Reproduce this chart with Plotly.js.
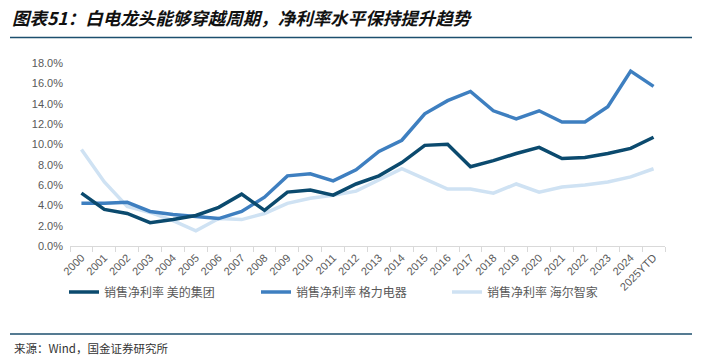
<!DOCTYPE html>
<html>
<head>
<meta charset="utf-8">
<script src="https://cdn.plot.ly/plotly-3.0.1.min.js"></script>
<style>
html,body{margin:0;padding:0;background:#fff;}
#chart{width:702px;height:357px;}
</style>
</head>
<body>
<div id="chart"></div>
<script>
// ---- data ----
var years = ['2000','2001','2002','2003','2004','2005','2006','2007','2008','2009','2010','2011','2012','2013','2014','2015','2016','2017','2018','2019','2020','2021','2022','2023','2024','2025YTD'];
var midea = [5.2,3.6,3.2,2.3,2.6,3.0,3.8,5.1,3.5,5.3,5.5,5.0,6.1,6.9,8.2,9.9,10.0,7.8,8.4,9.1,9.7,8.6,8.7,9.1,9.6,10.7];
var gree  = [4.2,4.2,4.3,3.4,3.1,2.9,2.7,3.4,4.8,6.9,7.1,6.4,7.5,9.3,10.4,13.0,14.3,15.2,13.3,12.5,13.3,12.2,12.2,13.7,17.2,15.7];
var haier = [9.5,6.3,3.9,3.3,2.5,1.5,2.7,2.6,3.2,4.2,4.7,5.0,5.4,6.5,7.6,6.6,5.6,5.6,5.2,6.1,5.3,5.8,6.0,6.3,6.8,7.6];
var seriesNames = ['销售净利率 美的集团','销售净利率 格力电器','销售净利率 海尔智家'];
var yTicks = [0,2,4,6,8,10,12,14,16,18];
var yTickText = ['0.0%','2.0%','4.0%','6.0%','8.0%','10.0%','12.0%','14.0%','16.0%','18.0%'];
var titleText = '图表51：白电龙头能够穿越周期，净利率水平保持提升趋势';
var sourceText = '来源：Wind，国金证券研究所';

// ---- layout geometry (pixels) ----
var W = 702, H = 357;
var L = 70, R = 665, T = 63, B = 246;
function px2x(p){ return (p - L) / (R - L); }
function px2y(p){ return (B - p) / (B - T); }

var cjk = '"Noto Sans CJK SC", "Noto Sans", sans-serif';
var axisFont = {family: '"Liberation Sans", Arial, sans-serif', size: 11, color: '#595959'};
var legFont = {family: cjk, size: 12, color: '#595959'};

var traces = [
  {x: years, y: haier, name: seriesNames[2], type: 'scatter', mode: 'lines',
   line: {color: '#cfe2f3', width: 3.5}, legend: 'legend3'},
  {x: years, y: gree, name: seriesNames[1], type: 'scatter', mode: 'lines',
   line: {color: '#3e7fc0', width: 3.5}, legend: 'legend2'},
  {x: years, y: midea, name: seriesNames[0], type: 'scatter', mode: 'lines',
   line: {color: '#0b4a6e', width: 3.5}, legend: 'legend'}
];

function leg(xpx){
  return {x: px2x(xpx), xanchor: 'left', y: px2y(292), yanchor: 'middle',
          orientation: 'h', font: legFont, bgcolor: 'rgba(0,0,0,0)', borderwidth: 0};
}

var layout = {
  width: W, height: H,
  margin: {l: L, r: W - R, t: T, b: H - B, pad: 0},
  paper_bgcolor: '#fff', plot_bgcolor: '#fff',
  showlegend: true,
  title: {text: titleText, xref: 'container', yref: 'container', x: 12 / W, xanchor: 'left',
          y: 1 - 19 / H, yanchor: 'middle',
          font: {family: cjk, size: 17.5, color: '#111', weight: 'bold', style: 'italic'}},
  xaxis: {type: 'category', range: [-0.5, years.length - 0.5], tickangle: -45,
          tickson: 'boundaries', ticks: 'outside', ticklen: 5, tickcolor: '#d9d9d9', tickwidth: 1,
          showline: true, linecolor: '#d9d9d9', linewidth: 1, showgrid: false, zeroline: false,
          tickfont: axisFont, fixedrange: true},
  yaxis: {range: [0, 18], tickmode: 'array', tickvals: yTicks, ticktext: yTickText,
          showgrid: false, zeroline: false, showline: false, ticks: '',
          tickfont: axisFont, ticklabelstandoff: 6, fixedrange: true},
  legend: leg(64),
  legend2: leg(256),
  legend3: leg(447),
  shapes: [
    {type: 'line', xref: 'paper', yref: 'paper', x0: px2x(10), x1: px2x(692), y0: px2y(37.5), y1: px2y(37.5),
     line: {color: '#1c4f6e', width: 1.5}},
    {type: 'line', xref: 'paper', yref: 'paper', x0: px2x(10), x1: px2x(692), y0: px2y(334), y1: px2y(334),
     line: {color: '#1c4f6e', width: 1.5}}
  ],
  annotations: [
    {text: sourceText, xref: 'paper', yref: 'paper', x: px2x(12), y: px2y(348), xanchor: 'left', yanchor: 'middle',
     showarrow: false, font: {family: cjk, size: 11.5, color: '#333'}}
  ]
};

Plotly.newPlot('chart', traces, layout, {staticPlot: true, displayModeBar: false});
</script>
</body>
</html>
